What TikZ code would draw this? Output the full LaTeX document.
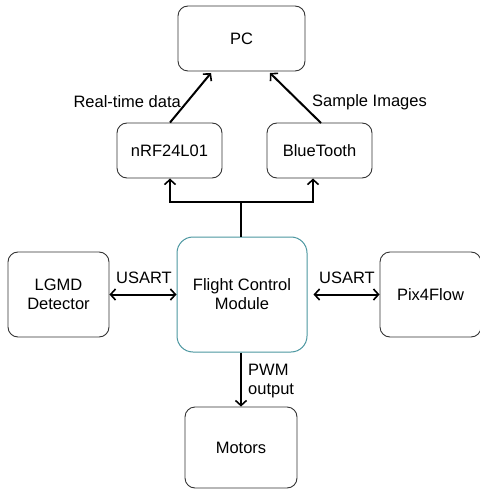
\documentclass[tikz,border=0pt]{standalone}
\usepackage{fontspec}
\setmainfont{Liberation Sans}
\usetikzlibrary{arrows.meta}
\begin{document}
\begin{tikzpicture}[x=1pt,y=-1pt,
  box/.style={draw=black!80,line width=0.9pt,rounded corners=10pt,align=center,inner sep=0pt,font=\fontsize{16.5}{19}\selectfont},
  tip/.tip={Straight Barb[length=5pt,width=11pt,line width=1.6pt]},
  conn/.style={line width=2pt,-tip},
  dconn/.style={line width=2pt,tip-tip},
  lbl/.style={font=\fontsize{16.5}{19}\selectfont,inner sep=0pt,align=left}]
\useasboundingbox (0,0) rectangle (479,494);
\node[box,minimum width=127pt,minimum height=65pt] (pc) at (241.5,38.5) {PC};
\node[box,minimum width=105pt,minimum height=55pt] (nrf) at (169.5,150.5) {nRF24L01};
\node[box,minimum width=105pt,minimum height=55pt] (bt) at (319.5,150.5) {BlueTooth};
\node[box,draw={rgb,255:red,75;green,150;blue,160},line width=1pt,rounded corners=16pt,minimum width=130pt,minimum height=115pt] (fcm) at (242,294.5) {Flight Control\\Module};
\node[box,minimum width=101pt,minimum height=85pt] (lgmd) at (58.5,294.5) {LGMD\\Detector};
\node[box,minimum width=101pt,minimum height=85pt] (pix) at (430.5,294.5) {Pix4Flow};
\node[box,minimum width=112pt,minimum height=81pt] (mot) at (241,447.5) {Motors};
\coordinate (j) at (241,202);
\draw[conn] (nrf.north) ++(0.5,0) -- (211,73);
\draw[conn] (321,123) -- (270,73);
\draw[line width=2pt] (fcm.north -| j) -- (j);
\draw[conn] (j) -| (170,178.5);
\draw[conn] (j) -| (313,178.5);
\draw[dconn] (lgmd.east) -- (fcm.west);
\draw[dconn] (fcm.east) ++(6,0) -- (pix.west);
\draw[conn] (fcm.south -| mot.north) -- (mot.north);
\node[lbl,anchor=east] (l1) at (181,102) {Real-time data};
\node[lbl,anchor=west] (l2) at (312,102) {Sample Images};
\node[lbl] (l3) at (144,278) {USART};
\node[lbl] (l4) at (347,278) {USART};
\node[lbl,anchor=west] (l5) at (248,381) {PWM\\output};
\end{tikzpicture}
\end{document}
